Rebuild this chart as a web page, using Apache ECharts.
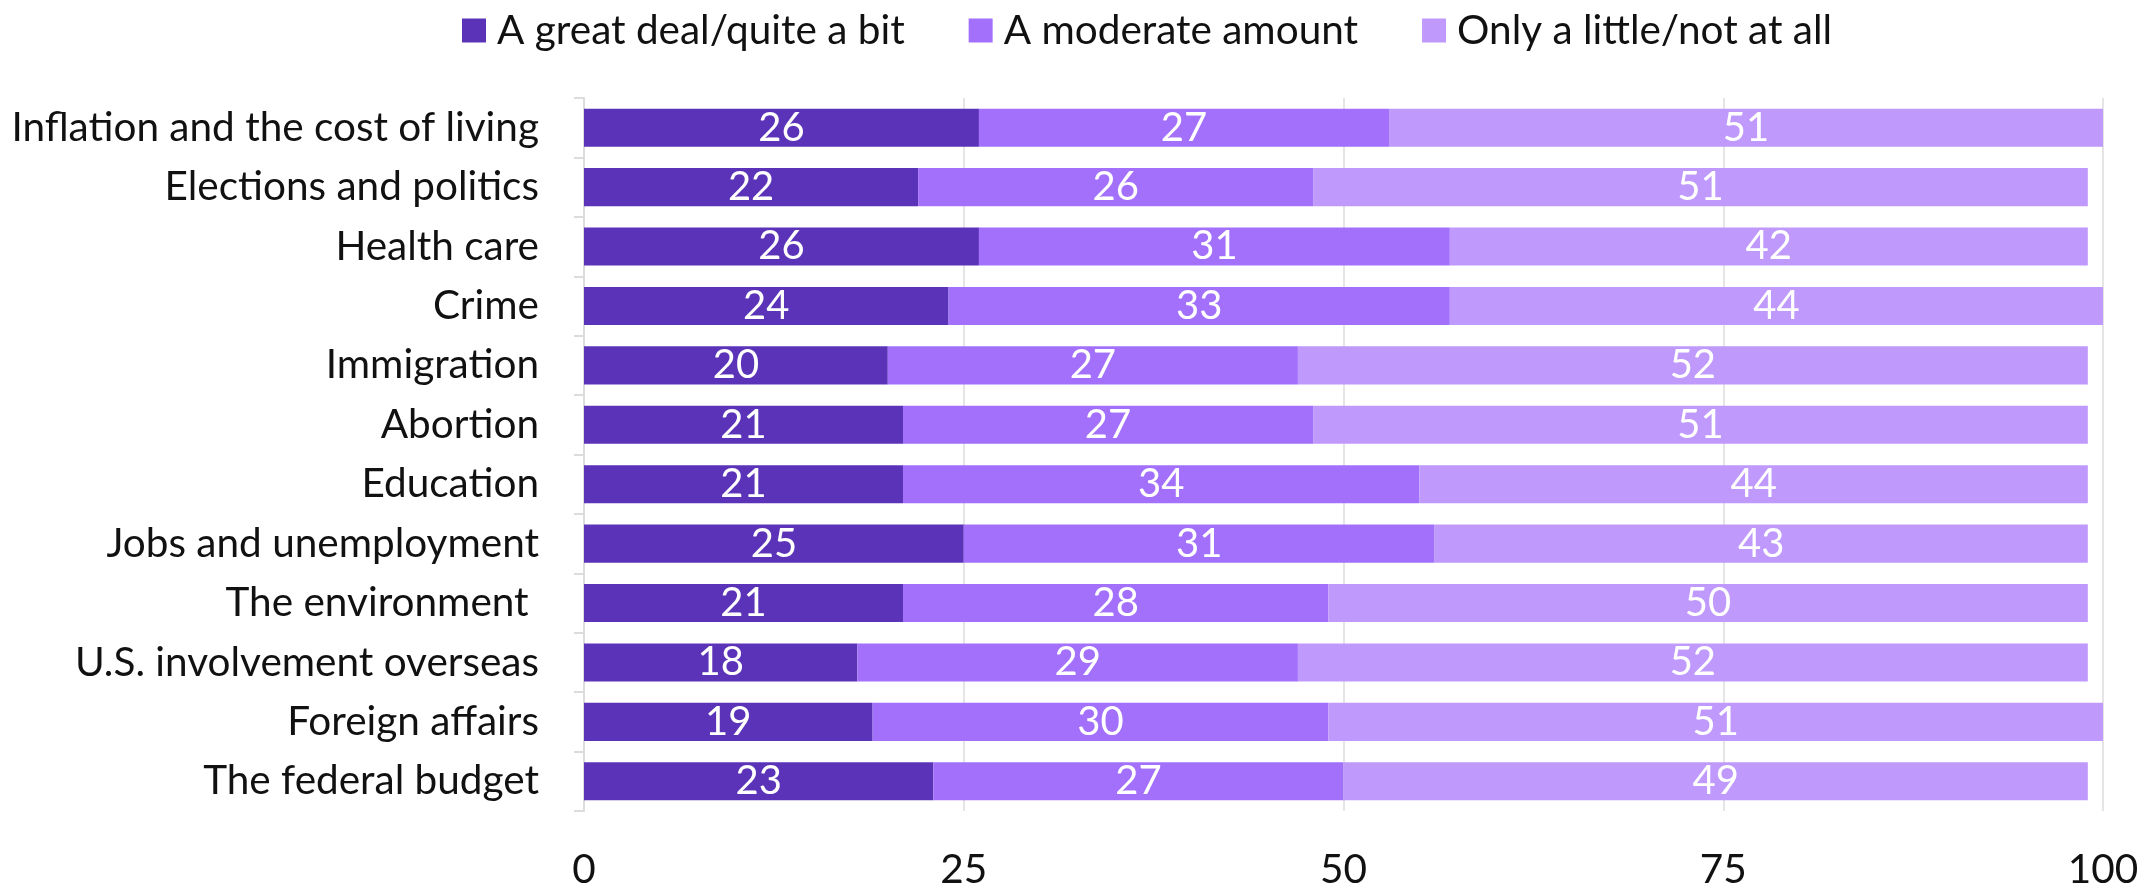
<!DOCTYPE html>
<html>
<head>
<meta charset="utf-8">
<script src="https://cdn.jsdelivr.net/npm/echarts@6/dist/echarts.min.js"></script>
<style>html,body{margin:0;padding:0;background:#fff}#c{width:2151px;height:890px}</style>
</head>
<body>
<div id="c"></div>
<script>
const categories = ["Inflation and the cost of living","Elections and politics","Health care","Crime","Immigration","Abortion","Education","Jobs and unemployment","The environment ","U.S. involvement overseas","Foreign affairs","The federal budget"];
const seriesNames = ["A great deal/quite a bit","A moderate amount","Only a little/not at all"];
const greatDeal = [26,22,26,24,20,21,21,25,21,18,19,23];
const moderate = [27,26,31,33,27,27,34,31,28,29,30,27];
const little = [51,51,42,44,52,51,44,43,50,52,51,49];
const colors = ["#5b33b8","#a370fc","#bf99fc"];
const FONT = "Lato";
const chart = echarts.init(document.getElementById('c'));
const mk = (name, data, color) => ({
  name, type: 'bar', stack: 'total', data, barWidth: '64%',
  itemStyle: { color },
  label: { show: true, position: 'inside', color: '#fff', fontFamily: FONT, fontSize: 40 },
  emphasis: { disabled: true }
});
chart.setOption({
  animation: false,
  textStyle: { fontFamily: FONT },
  legend: {
    top: 5, left: 457, itemWidth: 24, itemHeight: 24, itemGap: 64,
    icon: 'rect',
    textStyle: { fontFamily: FONT, fontSize: 40.5, color: '#111', padding: [0,0,0,6] },
    data: seriesNames
  },
  grid: { left: 584, right: 48, top: 98, bottom: 74, containLabel: false },
  xAxis: {
    type: 'value', min: 0, max: 100, interval: 25,
    axisLine: { show: false }, axisTick: { show: false },
    splitLine: { show: true, lineStyle: { color: '#dcdcdc', width: 1.5 } },
    axisLabel: { fontFamily: FONT, fontSize: 40.5, color: '#111', margin: 38 }
  },
  yAxis: {
    type: 'category', data: categories, inverse: true,
    axisLine: { show: true, lineStyle: { color: '#dcdcdc', width: 2 } },
    axisTick: { show: true, length: 10, lineStyle: { color: '#dcdcdc', width: 2 } },
    axisLabel: { fontFamily: FONT, fontSize: 40.5, color: '#111', margin: 45 }
  },
  series: [mk(seriesNames[0], greatDeal, colors[0]), mk(seriesNames[1], moderate, colors[1]), mk(seriesNames[2], little, colors[2])]
});
</script>
</body>
</html>
